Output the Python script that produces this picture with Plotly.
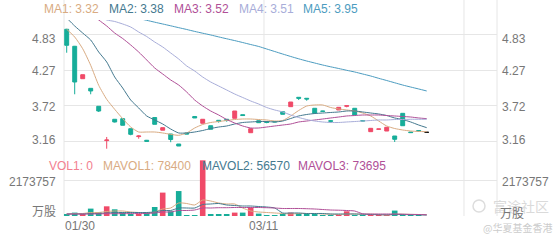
import plotly.graph_objects as go

W, H = 560, 240

# ---------------- data ----------------
opens = [4.903, 4.640, 4.138, 3.989, 3.711, 3.180, 3.510, 3.519, 3.364, 3.242, 3.185, 3.537, 3.341, 3.282, 3.127, 3.297,
         3.553, 3.448, 3.410, 3.494, 3.510, 3.525, 3.581, 3.302, 3.488, 3.475, 3.475, 3.627, 3.705, 3.850, 3.835, 3.680,
         3.638, 3.488, 3.654, 3.711, 3.680, 3.488, 3.318, 3.355, 3.328, 3.251, 3.602, 3.313, 3.336, 3.308]
highs = [4.910, 4.645, 4.200, 3.989, 3.711, 3.236, 3.510, 3.519, 3.364, 3.262, 3.190, 3.537, 3.380, 3.282, 3.127, 3.297,
         3.553, 3.510, 3.410, 3.494, 3.510, 3.638, 3.581, 3.364, 3.488, 3.483, 3.478, 3.627, 3.777, 3.850, 3.835, 3.680,
         3.640, 3.499, 3.695, 3.720, 3.680, 3.488, 3.370, 3.360, 3.386, 3.251, 3.602, 3.313, 3.336, 3.308]
lows = [4.540, 3.897, 4.138, 3.897, 3.623, 3.054, 3.460, 3.417, 3.262, 3.209, 3.165, 3.432, 3.341, 3.155, 3.096, 3.282,
        3.530, 3.448, 3.355, 3.457, 3.472, 3.525, 3.561, 3.302, 3.457, 3.448, 3.465, 3.587, 3.705, 3.808, 3.797, 3.602,
        3.630, 3.457, 3.654, 3.695, 3.576, 3.484, 3.318, 3.355, 3.328, 3.158, 3.410, 3.304, 3.328, 3.308]
closes = [4.655, 4.087, 4.200, 3.948, 3.638, 3.189, 3.468, 3.417, 3.277, 3.251, 3.169, 3.432, 3.380, 3.197, 3.096, 3.282,
          3.530, 3.510, 3.355, 3.479, 3.494, 3.638, 3.568, 3.364, 3.457, 3.460, 3.470, 3.587, 3.777, 3.835, 3.824, 3.602,
          3.633, 3.479, 3.695, 3.720, 3.576, 3.484, 3.370, 3.360, 3.386, 3.200, 3.410, 3.304, 3.328, 3.308]

ma1 = [4.903, 4.784, 4.602, 4.345, 4.036, 3.819, 3.664, 3.519, 3.390, 3.313, 3.313, 3.313, 3.298, 3.277, 3.262, 3.298,
       3.375, 3.429, 3.460, 3.475, 3.491, 3.506, 3.514, 3.514, 3.506, 3.499, 3.483, 3.491, 3.561, 3.646, 3.715, 3.731,
       3.731, 3.692, 3.669, 3.654, 3.638, 3.607, 3.561, 3.483, 3.406, 3.367, 3.344, 3.328, 3.321, 3.318]
ma2 = [5.078, 4.954, 4.845, 4.737, 4.551, 4.397, 4.164, 3.994, 3.808, 3.685, 3.561, 3.499, 3.437, 3.359, 3.298, 3.298,
       3.313, 3.336, 3.367, 3.390, 3.406, 3.437, 3.460, 3.468, 3.475, 3.475, 3.468, 3.483, 3.522, 3.561, 3.584, 3.599,
       3.607, 3.615, 3.623, 3.638, 3.638, 3.623, 3.607, 3.592, 3.568, 3.530, 3.506, 3.468, 3.421, 3.380]
ma3 = [None, None, None, 5.140, 5.047, 4.954, 4.845, 4.760, 4.660, 4.551, 4.428, 4.304, 4.211, 4.118, 4.040, 3.932,
       3.808, 3.715, 3.638, 3.576, 3.506, 3.452, 3.406, 3.375, 3.375, 3.390, 3.406, 3.421, 3.437, 3.468, 3.483, 3.499,
       3.514, 3.530, 3.545, 3.561, 3.568, 3.576, 3.576, 3.576, 3.568, 3.561, 3.553, 3.545, 3.530, 3.520]
ma4 = [None, None, None, None, 5.100, 5.047, 5.024, 4.985, 4.938, 4.861, 4.791, 4.706, 4.629, 4.536, 4.443, 4.335,
       4.257, 4.164, 4.087, 4.025, 3.963, 3.901, 3.847, 3.793, 3.746, 3.692, 3.654, 3.623, 3.576, 3.537, 3.506, 3.483,
       3.468, 3.460, 3.460, 3.468, 3.475, 3.483, 3.491, 3.499, 3.499, 3.506, 3.506, 3.510, 3.510, 3.510]
ma5 = [None, None, None, None, None, None, None, None, 5.100, 5.070, 5.042, 5.013, 4.985, 4.957, 4.928, 4.900,
       4.870, 4.842, 4.815, 4.785, 4.756, 4.728, 4.698, 4.667, 4.637, 4.598, 4.559, 4.520, 4.482, 4.446, 4.412, 4.381,
       4.350, 4.322, 4.296, 4.268, 4.242, 4.211, 4.180, 4.144, 4.110, 4.075, 4.040, 4.009, 3.979, 3.948]

volumes = [103000, 207000, 103000, 450000, 225000, 590000, 408000, 207000, 85000, 85000, 207000, 548000, 1425000,
           286000, 1520000, 24000, 43000, 3390000, 85000, 85000, 85000, 207000, 207000, 511000, 146000, 40000, 40000,
           85000, 207000, 146000, 146000, 100000, 40000, 40000, 60000, 286000, 60000, 40000, 60000, 40000, 60000,
           330000, 60000, 40000, 40000, 0]
mavol1 = [122000, 152000, 152000, 213000, 213000, 274000, 304000, 304000, 244000, 213000, 183000, 244000, 426000,
          487000, 792000, 761000, 670000, 974000, 913000, 792000, 731000, 731000, 487000, 304000, 244000, 213000,
          183000, 152000, 122000, 152000, 152000, 152000, 122000, 110000, 91000, 122000, 122000, 110000, 110000,
          91000, 61000, 110000, 110000, 97000, 91000, 78400]
mavol2 = [122000, 122000, 122000, 152000, 152000, 183000, 213000, 213000, 213000, 213000, 213000, 244000, 335000,
          335000, 487000, 487000, 487000, 700000, 731000, 761000, 670000, 639000, 609000, 609000, 578000, 548000,
          487000, 183000, 183000, 183000, 152000, 152000, 152000, 122000, 122000, 122000, 122000, 110000, 91000,
          79000, 73000, 91000, 91000, 79000, 73000, 56570]
mavol3 = [122000, 122000, 122000, 122000, 130000, 140000, 140000, 145000, 145000, 150000, 152000, 183000, 244000,
          244000, 335000, 335000, 365000, 487000, 487000, 505000, 505000, 518000, 518000, 518000, 518000, 505000,
          487000, 457000, 457000, 457000, 444000, 426000, 396000, 365000, 353000, 335000, 304000, 134000, 122000,
          122000, 122000, 122000, 110000, 97000, 91000, 73695]

price_ticks = [3.16, 3.72, 4.27, 4.83]
vol_tick = 2173757
date_labels = ["01/30", "03/11"]
date_tick_index = [0, 25]

ma_names = ["MA1", "MA2", "MA3", "MA4", "MA5"]
vol_names = ["VOL1", "MAVOL1", "MAVOL2", "MAVOL3"]

# ---------------- styles ----------------
RED = "#f04a68"
TEAL = "#17ad99"
BLACK = "#111111"
MA_COLORS = ["#d9ab82", "#44798f", "#b04f97", "#a8add9", "#4c9cc0"]
MAVOL_COLORS = ["#d9ab82", "#44798f", "#b04f97"]
GRID = "#e6e6e6"
LABEL = "#777777"
FONT = "Liberation Sans, Arial, sans-serif"
CJK = "Noto Sans CJK SC, sans-serif"

n = len(closes)
xs = list(range(n))

def px_x(p):
    return p / W

def px_y(p):
    return 1 - p / H

# pixel geometry of plot
X_LEFT, X_RIGHT = 64, 497
P_TOP, P_BOT = 20, 150
V_TOP, V_BOT = 158, 216
STEP = 8.0           # px per candle
X0_CENTER = 66.7     # px of first candle
x_range = [(X_LEFT - X0_CENTER) / STEP, (X_RIGHT - X0_CENTER) / STEP]

fig = go.Figure()

def col(i):
    if closes[i] > opens[i]:
        return RED
    if closes[i] < opens[i]:
        return TEAL
    return BLACK

for c in [RED, TEAL, BLACK]:
    idx = [i for i in range(n) if col(i) == c]
    fig.add_trace(go.Candlestick(
        x=[xs[i] for i in idx],
        open=[opens[i] for i in idx], high=[highs[i] for i in idx],
        low=[lows[i] for i in idx], close=[closes[i] for i in idx],
        increasing=dict(line=dict(color=c, width=1), fillcolor=c),
        decreasing=dict(line=dict(color=c, width=1), fillcolor=c),
        whiskerwidth=0, xaxis="x", yaxis="y", hoverinfo="skip"))

for ma, c in zip([ma1, ma2, ma3, ma4, ma5], MA_COLORS):
    fig.add_trace(go.Scatter(x=xs, y=ma, mode="lines", line=dict(color=c, width=1, shape="spline", smoothing=0.6),
                             xaxis="x", yaxis="y", hoverinfo="skip", connectgaps=False))

bar_colors = [RED if col(i) == RED else TEAL for i in range(n)]
fig.add_trace(go.Bar(x=xs, y=volumes, marker=dict(color=bar_colors, line=dict(width=0)), width=0.7,
                     xaxis="x", yaxis="y2", hoverinfo="skip"))
for mv, c in zip([mavol1, mavol2, mavol3], MAVOL_COLORS):
    fig.add_trace(go.Scatter(x=xs, y=mv, mode="lines", line=dict(color=c, width=1, shape="spline", smoothing=0.6),
                             xaxis="x", yaxis="y2", hoverinfo="skip"))

# price scale: y=20px -> top, y=150px -> bottom
p_per_px = 0.01548
p_top = 4.83 + (34 - P_TOP) * p_per_px
p_bot = 4.83 - (P_BOT - 34) * p_per_px
v_per_px = vol_tick / 35.7
v_top = (V_BOT - V_TOP) * v_per_px

fig.update_layout(
    width=W, height=H, margin=dict(l=0, r=0, t=0, b=0),
    paper_bgcolor="white", plot_bgcolor="white", showlegend=False,
    font=dict(family=FONT, size=12, color=LABEL),
    xaxis=dict(domain=[px_x(X_LEFT), px_x(X_RIGHT)], range=x_range, showgrid=False, zeroline=False,
               showticklabels=False, showline=False, rangeslider=dict(visible=False), fixedrange=True),
    yaxis=dict(domain=[px_y(P_BOT), px_y(P_TOP)], range=[p_bot, p_top], tickvals=price_ticks,
               showticklabels=False, gridcolor=GRID, gridwidth=1, zeroline=False, showline=False, fixedrange=True),
    yaxis2=dict(domain=[px_y(V_BOT), px_y(V_TOP)], range=[0, v_top], tickvals=[0, vol_tick], anchor="x",
                showticklabels=False, gridcolor=GRID, gridwidth=1, zeroline=False, showline=False, fixedrange=True),
)

# vertical grid lines (full height)
vlines_paper = [px_x(X_LEFT), px_x(X_RIGHT)]
for xp in vlines_paper:
    fig.add_shape(type="line", xref="paper", yref="paper", x0=xp, x1=xp, y0=px_y(V_BOT), y1=1,
                  line=dict(color=GRID, width=1), layer="below")
for ti in date_tick_index[1:] + [date_tick_index[1] * 2]:
    xv = ti - 0.34
    fig.add_shape(type="line", xref="x", yref="paper", x0=xv, x1=xv, y0=px_y(V_BOT), y1=1,
                  line=dict(color=GRID, width=1), layer="below")

def ann(text, x, y, xanchor="left", color=LABEL, size=12, family=FONT):
    fig.add_annotation(text=text, x=px_x(x), y=px_y(y), xref="paper", yref="paper", xanchor=xanchor,
                       yanchor="middle", showarrow=False, font=dict(color=color, size=size, family=family),
                       borderpad=0)

# watermark (drawn first so labels sit on top)
fig.add_shape(type="circle", xref="paper", yref="paper", x0=px_x(473), x1=px_x(485), y0=px_y(212), y1=px_y(200),
              line=dict(color="#dddddd", width=1.5))
ann("富途社区", 492, 206, "left", color="#dadada", size=14, family=CJK)
ann("@华夏基金香港", 482, 227, "left", color="#cccccc", size=10, family=CJK)

# price axis labels (both sides)
label_y = {4.83: 39, 4.27: 71, 3.72: 106.5, 3.16: 139.5}
for v in price_ticks:
    ann(f"{v:.2f}", 57, label_y[v], "right")
    ann(f"{v:.2f}", 501, label_y[v], "left")

# volume axis labels
ann(str(vol_tick), 57, 182.3, "right")
ann(str(vol_tick), 501, 182.3, "left")
ann("万股", 57, 210, "right", family=CJK, size=12)
ann("万股", 499, 212, "left", family=CJK, size=12)

# date labels
ann(date_labels[0], 64, 226, "left")
ann(date_labels[1], (X0_CENTER + (date_tick_index[1] - 0.34) * STEP), 226, "center")

# MA legend
ma_x = [43, 108.3, 172.7, 238.3, 301.7]
for name, ma, c, x in zip(ma_names, [ma1, ma2, ma3, ma4, ma5], MA_COLORS, ma_x):
    ann(f"{name}: {ma[-1]:.2f}", x, 9.5, "left", color=c)

# volume legend
vol_x = [48, 101.7, 201, 297.3]
vol_vals = [volumes[-1], mavol1[-1], mavol2[-1], mavol3[-1]]
vol_cols = ["#f2808f"] + MAVOL_COLORS
for name, v, c, x in zip(vol_names, vol_vals, vol_cols, vol_x):
    ann(f"{name}: {int(v)}", x, 166, "left", color=c)

fig.write_html("out.html")
